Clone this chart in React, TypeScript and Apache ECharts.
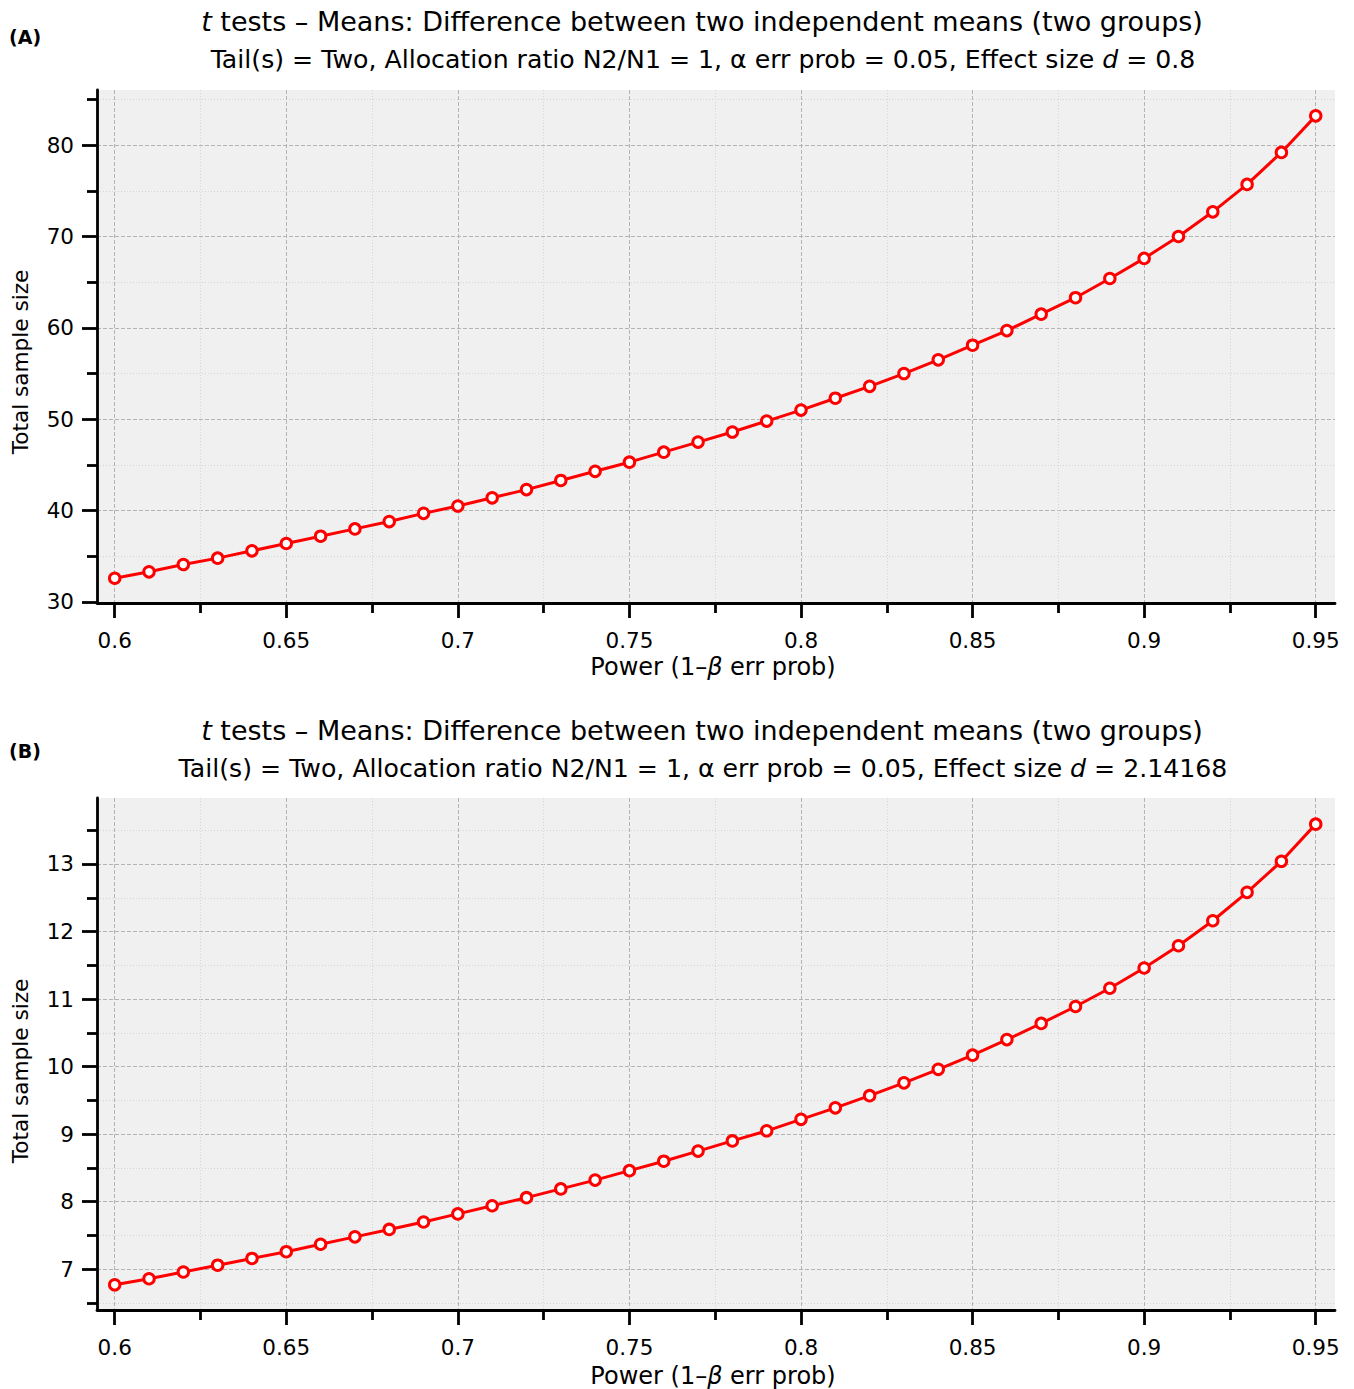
import React, { useEffect, useRef } from "react";
import * as echarts from "echarts";

const power = [0.6, 0.61, 0.62, 0.63, 0.64, 0.65, 0.66, 0.67, 0.68, 0.69, 0.7, 0.71, 0.72, 0.73, 0.74, 0.75, 0.76, 0.77, 0.78, 0.79, 0.8, 0.81, 0.82, 0.83, 0.84, 0.85, 0.86, 0.87, 0.88, 0.89, 0.9, 0.91, 0.92, 0.93, 0.94, 0.95];
const sizeA = [32.6, 33.3, 34.1, 34.8, 35.6, 36.4, 37.2, 38.0, 38.8, 39.7, 40.5, 41.4, 42.3, 43.3, 44.3, 45.3, 46.4, 47.5, 48.6, 49.8, 51.0, 52.3, 53.6, 55.0, 56.5, 58.1, 59.7, 61.5, 63.3, 65.4, 67.6, 70.0, 72.7, 75.7, 79.2, 83.2];
const sizeB = [6.77, 6.86, 6.96, 7.06, 7.16, 7.26, 7.37, 7.48, 7.59, 7.70, 7.82, 7.94, 8.06, 8.19, 8.32, 8.46, 8.60, 8.75, 8.90, 9.05, 9.22, 9.39, 9.57, 9.76, 9.96, 10.17, 10.40, 10.64, 10.89, 11.16, 11.46, 11.79, 12.16, 12.58, 13.04, 13.59];

const xMajor = [0.6, 0.65, 0.7, 0.75, 0.8, 0.85, 0.9, 0.95];
const xMinor = [0.625, 0.675, 0.725, 0.775, 0.825, 0.875, 0.925];
const yMajorA = [30, 40, 50, 60, 70, 80];
const yMinorA = [35, 45, 55, 65, 75, 85];
const yMajorB = [7, 8, 9, 10, 11, 12, 13];
const yMinorB = [6.5, 7.5, 8.5, 9.5, 10.5, 11.5, 12.5, 13.5];

const titleText = "{i|t} tests – Means: Difference between two independent means (two groups)";
const subA = "Tail(s) = Two, Allocation ratio N2/N1 = 1, α err prob = 0.05, Effect size {i|d} = 0.8";
const subB = "Tail(s) = Two, Allocation ratio N2/N1 = 1, α err prob = 0.05, Effect size {i|d} = 2.14168";
const xName = "Power (1–{i|β} err prob)";
const yName = "Total sample size";

const FONT = "DejaVu Sans";

export default function App() {
  const ref = useRef<HTMLDivElement>(null);
  useEffect(() => {
    document.body.style.margin = "0";
    const chart = echarts.init(ref.current!, null, { renderer: "svg" });

    const xMin = 0.59484;
    const xMax = 0.95562;
    const grids = [
      { left: 97, top: 90, width: 1238, height: 513 },
      { left: 97, top: 798, width: 1238, height: 512 },
    ];
    const yExt = [
      [29.89, 86.03],
      [6.397, 13.977],
    ];
    const yMaj = [yMajorA, yMajorB];
    const yMin = [yMinorA, yMinorB];

    const axisLineStyle = { color: "#000", width: 2.8 };
    const majorSplit = { show: true, lineStyle: { color: "#b4b4b4", width: 1, type: [4, 2] } };
    const minorSplit = { show: true, lineStyle: { color: "#d4d4d4", width: 1, type: [1, 2] } };
    const labelStyle = { color: "#000", fontSize: 21.5, fontFamily: FONT };

    const xAxis: any[] = [];
    const yAxis: any[] = [];
    [0, 1].forEach((g) => {
      xAxis.push({
        type: "value", gridIndex: g, min: xMin, max: xMax, position: "bottom",
        axisLine: { show: true, onZero: false, lineStyle: axisLineStyle },
        axisTick: { show: true, customValues: xMajor, length: 15, lineStyle: axisLineStyle },
        axisLabel: { show: true, customValues: xMajor, margin: 26, ...labelStyle, formatter: (v: number) => String(v) },
        splitLine: majorSplit,
      });
      xAxis.push({
        type: "value", gridIndex: g, min: xMin, max: xMax, position: "bottom",
        axisLine: { show: false, onZero: false },
        axisTick: { show: true, customValues: xMinor, length: 10, lineStyle: axisLineStyle },
        axisLabel: { show: false },
        splitLine: minorSplit,
      });
      yAxis.push({
        type: "value", gridIndex: g, min: yExt[g][0], max: yExt[g][1], position: "left",
        axisLine: { show: true, onZero: false, lineStyle: axisLineStyle },
        axisTick: { show: true, customValues: yMaj[g], length: 15, lineStyle: axisLineStyle },
        axisLabel: { show: true, customValues: yMaj[g], margin: 23, ...labelStyle, formatter: (v: number) => String(v) },
        splitLine: majorSplit,
      });
      yAxis.push({
        type: "value", gridIndex: g, min: yExt[g][0], max: yExt[g][1], position: "left",
        axisLine: { show: false, onZero: false },
        axisTick: { show: true, customValues: yMin[g], length: 10, lineStyle: axisLineStyle },
        axisLabel: { show: false },
        splitLine: minorSplit,
      });
    });

    const seriesData = [sizeA, sizeB];
    const series = [0, 1].map((g) => ({
      type: "line",
      xAxisIndex: g * 2,
      yAxisIndex: g * 2,
      data: power.map((p, i) => [p, seriesData[g][i]]),
      symbol: "circle",
      symbolSize: 10.5,
      showSymbol: true,
      lineStyle: { color: "#ff0000", width: 3 },
      itemStyle: { color: "#ffffff", borderColor: "#ff0000", borderWidth: 3 },
      z: 5,
    }));

    const rich = (size: number) => ({ i: { fontStyle: "italic", fontSize: size, fontFamily: FONT, fill: "#000" } });
    const txt = (text: string, x: number, y: number, size: number, extra: any = {}) => ({
      type: "text", x, y, ...extra,
      style: { text, fontSize: size, fontFamily: FONT, fill: "#000", align: "center", verticalAlign: "middle", rich: rich(size) },
    });

    const offs = [0, 709];
    const graphic: any[] = [];
    [0, 1].forEach((g) => {
      const o = offs[g];
      graphic.push(txt(titleText, 702, 21 + o, 27));
      graphic.push(txt(g === 0 ? subA : subB, 703, 59 + o, 25.2));
      graphic.push(txt(xName, 713, 667 + o, 24));
      graphic.push(txt(yName, 20, 362 + o, 21.6, { rotation: Math.PI / 2 }));
      graphic.push({
        type: "text", x: 9, y: 37 + (g === 0 ? 0 : 714),
        style: { text: g === 0 ? "(A)" : "(B)", fontSize: 19, fontWeight: "bold", fontFamily: "DejaVu Sans", fill: "#000", verticalAlign: "middle" },
      });
    });

    chart.setOption({
      animation: false,
      backgroundColor: "#ffffff",
      grid: grids.map((gr) => ({ ...gr, show: true, backgroundColor: "#f0f0f0", borderWidth: 0, containLabel: false })),
      xAxis,
      yAxis,
      series,
      graphic,
    });
    return () => chart.dispose();
  }, []);
  return <div ref={ref} style={{ width: 1354, height: 1389 }} />;
}
